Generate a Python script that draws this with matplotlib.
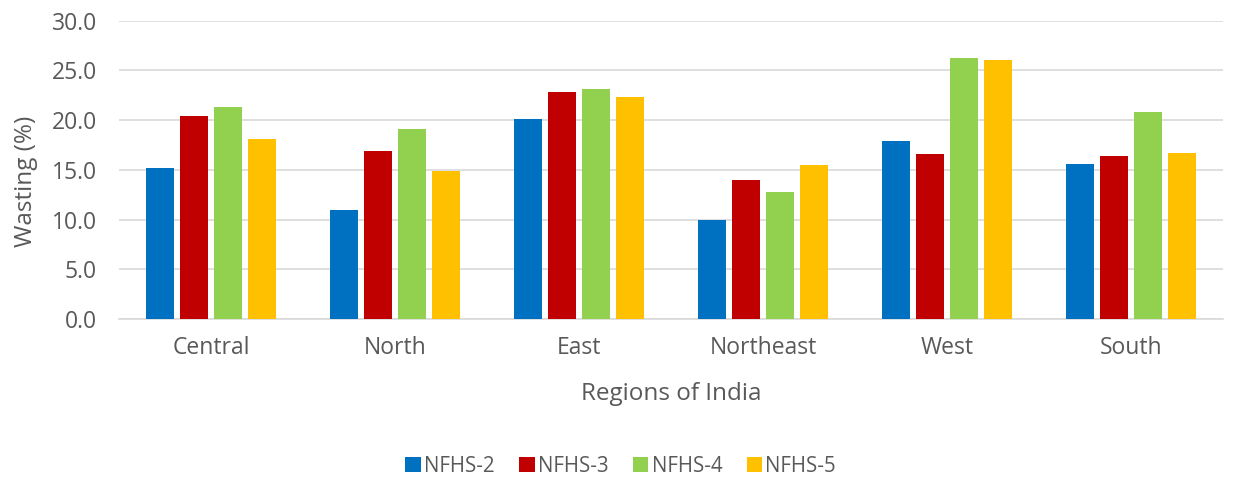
import matplotlib
matplotlib.use("Agg")
import matplotlib.pyplot as plt
import numpy as np

regions = ["Central", "North", "East", "Northeast", "West", "South"]
series = ["NFHS-2", "NFHS-3", "NFHS-4", "NFHS-5"]
nfhs2 = [15.2, 11.0, 20.1, 10.0, 17.9, 15.6]
nfhs3 = [20.4, 16.9, 22.8, 14.0, 16.6, 16.4]
nfhs4 = [21.3, 19.1, 23.1, 12.8, 26.2, 20.8]
nfhs5 = [18.1, 14.9, 22.3, 15.5, 26.0, 16.7]
colors = ["#0070C0", "#C00000", "#92D050", "#FFC000"]

plt.rcParams['font.family'] = ['Open Sans', 'DejaVu Sans']
txt = "#595959"

fig = plt.figure(figsize=(12.34, 4.8), dpi=100)
ax = fig.add_axes([0.0964, 0.335, 0.895, 0.622])

x = np.arange(len(regions))
pitch = 0.185
width = 0.152
for i, (vals, name) in enumerate(zip([nfhs2, nfhs3, nfhs4, nfhs5], series)):
    ax.bar(x + (i - 1.5) * pitch, vals, width, color=colors[i], label=name, zorder=3)

ax.set_xlim(-0.5, len(regions) - 0.5)
ax.set_ylim(0, 30)
ax.set_yticks(np.arange(0, 31, 5))
ax.set_yticklabels([f"{v:.1f}" for v in np.arange(0, 31, 5)])
ax.set_xticks(x)
ax.set_xticklabels(regions)
ax.grid(axis="y", color="#D9D9D9", linewidth=1.2, zorder=0)
for s in ["top", "right", "left"]:
    ax.spines[s].set_visible(False)
ax.spines["bottom"].set_color("#D9D9D9")
ax.spines["bottom"].set_linewidth(1.2)
ax.tick_params(length=0, colors=txt, labelsize=16.5)
ax.tick_params(axis="x", pad=12)
ax.tick_params(axis="y", pad=16)

ax.set_ylabel("Wasting (%)", color=txt, fontsize=17.5)
ax.yaxis.set_label_coords(-0.073, 0.46)
ax.set_xlabel("Regions of India", color=txt, fontsize=17.5, labelpad=16)

fig.legend(loc="center", bbox_to_anchor=(0.503, 0.028), ncol=4, frameon=False,
           fontsize=14.8, labelcolor=txt, handlelength=0.75, handleheight=0.75,
           handletextpad=0.15, columnspacing=1.2)

fig.savefig("out.png", dpi=100)
